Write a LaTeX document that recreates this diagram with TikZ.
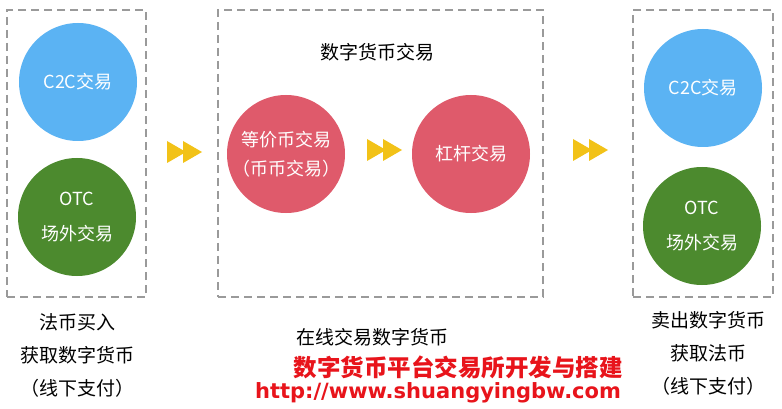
\documentclass[tikz,border=0pt]{standalone}
\usepackage{fontspec}
\setmainfont{Noto Sans CJK SC}
\newfontfamily\urlfont{DejaVu Sans}
\definecolor{cblue}{HTML}{5BB3F3}
\definecolor{cgreen}{HTML}{4C8A2E}
\definecolor{cred}{HTML}{DF5A6B}
\definecolor{cyel}{HTML}{F2C218}
\definecolor{boxgray}{HTML}{9A9A9A}
\definecolor{wred}{HTML}{E8141B}
\begin{document}
\begin{tikzpicture}[x=1pt,y=-1pt,
  dbox/.style={draw=boxgray, line width=2pt, dash pattern=on 8pt off 5pt, inner sep=0pt},
  circ/.style={circle, minimum size=118pt, inner sep=0pt, text=white, align=center, font=\fontsize{18}{29}\selectfont},
  lbl/.style={align=center, font=\fontsize{19}{33}\selectfont, text=black},
  arr/.style={fill=cyel}]
\useasboundingbox (0,0) rectangle (782,409);
\fill[white] (0,0) rectangle (782,409);
% boxes
\node[dbox, minimum width=139pt, minimum height=287pt] (LB) at (76.5,153.5) {};
\node[dbox, minimum width=325pt, minimum height=287pt] (MB) at (380.5,153.5) {};
\node[dbox, minimum width=140pt, minimum height=287pt] (RB) at (703,153.5) {};
% circles
\node[circ, fill=cblue] (L1) at (78,82) {C2C交易};
\node[circ, fill=cgreen, font=\fontsize{18}{35}\selectfont] (L2) at (77,217) {OTC\\场外交易};
\node[circ, fill=cred] (M1) at (286,154) {等价币交易\\（币币交易）};
\node[circ, fill=cred] (M2) at (471,154) {杠杆交易};
\node[circ, fill=cblue] (R1) at (703,88) {C2C交易};
\node[circ, fill=cgreen, font=\fontsize{18}{35}\selectfont] (R2) at (702,226) {OTC\\场外交易};
% titles
\node[lbl] (MT) at (377,52) {数字货币交易};
\node[lbl] (LT) at (77,355) {法币买入\\获取数字货币\\（线下支付）};
\node[lbl] (RT) at (708,353) {卖出数字货币\\获取法币\\（线下支付）};
\node[lbl] (MT2) at (372,337) {在线交易数字货币};
\node[font=\fontsize{23.5}{26}\selectfont\bfseries, text=wred] (W1) at (458,367) {数字货币平台交易所开发与搭建};
\node[font=\urlfont\fontsize{21}{24}\selectfont\bfseries, text=wred] (W2) at (438,393) {http://www.shuangyingbw.com};
% double arrows
\foreach \x/\y in {167/152, 367/150, 573/150}{
  \fill[arr] (\x,\y-11) -- (\x+19,\y) -- (\x,\y+11) -- cycle;
  \fill[arr] (\x+16,\y-11) -- (\x+35,\y) -- (\x+16,\y+11) -- cycle;
}
\end{tikzpicture}
\end{document}
